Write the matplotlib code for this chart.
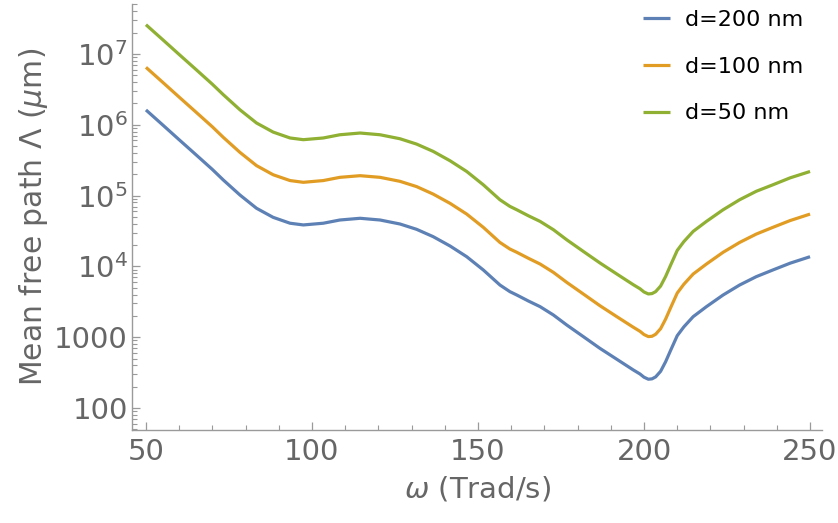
import matplotlib
matplotlib.use("Agg")
import math
import matplotlib.pyplot as plt
from matplotlib.ticker import FuncFormatter, FixedLocator, NullFormatter, MultipleLocator

plt.rcParams['font.family'] = ['DejaVu Sans']
plt.rcParams['mathtext.fontset'] = 'dejavusans'

# frequency omega (Trad/s)
omega = [50, 55, 60, 65, 70, 73.3, 78.3, 83.3, 88.3, 93.4, 97.4, 103.4, 108.4, 114.5,
         120.5, 126.5, 131.5, 136.5, 141.6, 146.6, 151.6, 156.6, 159.6, 161.7, 165.2,
         168.7, 172.7, 176.7, 181.7, 186.7, 191.8, 196.8, 198.8, 200.0, 201.3, 202.4,
         203.5, 205.0, 206.5, 208.0, 210.0, 212.0, 214.8, 218.8, 223.8, 228.8, 233.8,
         238.8, 244.0, 250]

d200 = [1.62e6, 1.00e6, 6.15e5, 3.80e5, 2.34e5, 1.66e5, 1.02e5, 6.62e4, 4.93e4, 4.07e4,
        3.85e4, 4.07e4, 4.52e4, 4.78e4, 4.52e4, 3.97e4, 3.34e4, 2.63e4, 1.94e4, 1.37e4,
        8.90e3, 5.46e3, 4.40e3, 3.94e3, 3.24e3, 2.70e3, 2.06e3, 1.49e3, 1.02e3, 697,
        488, 344, 302, 272, 255, 258, 275, 330, 450, 650,
        1050, 1400, 1950, 2700, 3940, 5460, 7160, 8900, 1.11e4, 1.37e4]

d100 = [6.48e6, 4.00e6, 2.46e6, 1.52e6, 9.36e5, 6.64e5, 4.08e5, 2.65e5, 1.97e5, 1.63e5,
        1.54e5, 1.63e5, 1.81e5, 1.91e5, 1.81e5, 1.59e5, 1.34e5, 1.05e5, 7.76e4, 5.48e4,
        3.56e4, 2.18e4, 1.76e4, 1.58e4, 1.30e4, 1.08e4, 8.24e3, 5.96e3, 4.08e3, 2.79e3,
        1.95e3, 1.38e3, 1.21e3, 1.09e3, 1.02e3, 1.03e3, 1.10e3, 1.32e3, 1.80e3, 2.60e3,
        4.20e3, 5.60e3, 7.80e3, 1.08e4, 1.58e4, 2.18e4, 2.86e4, 3.56e4, 4.44e4, 5.48e4]

d50 = [2.59e7, 1.60e7, 9.84e6, 6.08e6, 3.74e6, 2.66e6, 1.63e6, 1.06e6, 7.89e5, 6.51e5,
       6.16e5, 6.51e5, 7.23e5, 7.65e5, 7.23e5, 6.35e5, 5.34e5, 4.21e5, 3.10e5, 2.19e5,
       1.42e5, 8.74e4, 7.04e4, 6.30e4, 5.18e4, 4.32e4, 3.30e4, 2.38e4, 1.63e4, 1.12e4,
       7.81e3, 5.50e3, 4.83e3, 4.35e3, 4.08e3, 4.13e3, 4.40e3, 5.28e3, 7.20e3, 1.04e4,
       1.68e4, 2.24e4, 3.12e4, 4.32e4, 6.30e4, 8.74e4, 1.15e5, 1.42e5, 1.78e5, 2.19e5]

labels = ['d=200 nm', 'd=100 nm', 'd=50 nm']
colors = ['#5E81B5', '#E19C24', '#8FB032']

ymajor = [1e2, 1e3, 1e4, 1e5, 1e6, 1e7]
yminor = [m * 10 ** e for e in range(1, 8) for m in range(2, 10)]

gray = '#666666'
axis_gray = '#9a9a9a'
W, H = 838, 523
fig = plt.figure(figsize=(W / 100, H / 100), dpi=100)
ax = fig.add_axes([132 / W, 1 - 430 / H, (822 - 132) / W, (430 - 4) / H])

for ys, lab, c in zip([d200, d100, d50], labels, colors):
    ax.plot(omega, ys, color=c, lw=2.3, label=lab, solid_joinstyle='round',
            solid_capstyle='butt')

ax.set_yscale('log')
ax.set_xlim(45.8, 253.6)
ax.set_ylim(48.9, 5.08e7)

for s in ['top', 'right']:
    ax.spines[s].set_visible(False)
for s in ['left', 'bottom']:
    ax.spines[s].set_color(axis_gray)
    ax.spines[s].set_linewidth(1.0)

ax.xaxis.set_major_locator(MultipleLocator(50))
ax.xaxis.set_minor_locator(MultipleLocator(10))
ax.yaxis.set_major_locator(FixedLocator(ymajor))
ax.yaxis.set_minor_locator(FixedLocator([v for v in yminor if 48.9 < v < 5.08e7]))
ax.yaxis.set_minor_formatter(NullFormatter())


def yfmt(v, pos):
    e = int(round(math.log10(v)))
    if e == 2:
        return '100'
    if e == 3:
        return '1000'
    return r'$\mathregular{10^{%d}}$' % e


ax.yaxis.set_major_formatter(FuncFormatter(yfmt))
ax.tick_params(axis='both', which='major', direction='in', length=6, width=0.9,
               color=axis_gray, labelcolor=gray, labelsize=21)
ax.tick_params(axis='x', which='major', pad=6)
ax.tick_params(axis='y', which='major', pad=3)
ax.tick_params(axis='both', which='minor', direction='in', length=3.5, width=0.8,
               color=axis_gray)

ax.set_xlabel(r'$\omega$ (Trad/s)', fontsize=21, color=gray, labelpad=6)
ax.set_ylabel(r'Mean free path Λ ($\mu$m)', fontsize=21.5, color=gray, labelpad=3)

leg = ax.legend(loc='upper left', bbox_to_anchor=(643 / W, 1 - 10 / H),
                bbox_transform=fig.transFigure, frameon=False, fontsize=16,
                handlelength=1.2, handletextpad=0.68, labelspacing=1.2,
                borderaxespad=0.0, borderpad=0.0)

fig.savefig('out.png', dpi=100)
